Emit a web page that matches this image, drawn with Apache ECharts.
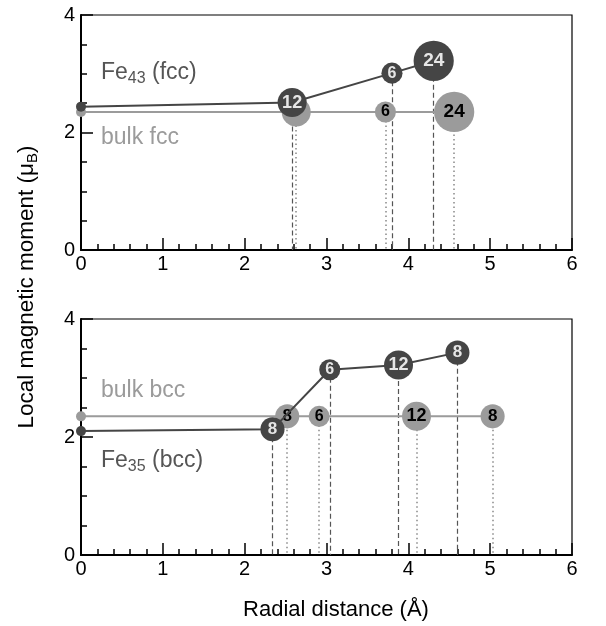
<!DOCTYPE html>
<html>
<head>
<meta charset="utf-8">
<script src="https://cdn.jsdelivr.net/npm/echarts@6/dist/echarts.min.js"></script>
<style>
  html, body { margin: 0; padding: 0; background: #fff; }
  #chart { width: 606px; height: 626px; }
</style>
</head>
<body>
<div id="chart"></div>
<script>
// top panel: Fe43 cluster vs bulk fcc
var fe43Center = 2.44;
var fe43R = [2.58, 3.80, 4.31];
var fe43M = [2.51, 3.01, 3.22];
var fe43N = [12, 6, 24];
var fccBulkM = 2.35;
var fccR = [2.63, 3.72, 4.56];
var fccN = [12, 6, 24];

// bottom panel: Fe35 cluster vs bulk bcc
var fe35Center = 2.10;
var fe35R = [2.34, 3.04, 3.88, 4.60];
var fe35M = [2.13, 3.14, 3.22, 3.43];
var fe35N = [8, 6, 12, 8];
var bccBulkM = 2.35;
var bccR = [2.52, 2.91, 4.10, 5.03];
var bccN = [8, 6, 12, 8];

var xTicks = [0, 1, 2, 3, 4, 5, 6];
var yTicks = [0, 2, 4];

var DARK = '#454545';
var GREY = '#9b9b9b';
var FONT = 'Liberation Sans, Arial, sans-serif';

function bubbleSize(n) {
    return 2 + 7.8 * Math.sqrt(n);
}

function makeX(idx) {
    return {
        type: 'value', gridIndex: idx, min: xTicks[0], max: xTicks[xTicks.length - 1], interval: 1,
        axisLine: { onZero: false, lineStyle: { color: '#000', width: 2 } },
        axisTick: { inside: true, length: 12, lineStyle: { color: '#000', width: 1.5 } },
        minorTick: { show: true, splitNumber: 5, length: 6, lineStyle: { color: '#000', width: 1.5 } },
        splitLine: { show: false },
        axisLabel: { color: '#000', fontSize: 20, fontFamily: FONT, margin: 4 }
    };
}

function makeY(idx) {
    return {
        type: 'value', gridIndex: idx, min: yTicks[0], max: yTicks[yTicks.length - 1], interval: 2,
        axisLine: { onZero: false, lineStyle: { color: '#000', width: 2 } },
        axisTick: { inside: true, length: 12, lineStyle: { color: '#000', width: 1.5 } },
        minorTick: { show: true, splitNumber: 4, length: 6, lineStyle: { color: '#000', width: 1.5 } },
        splitLine: { show: false },
        axisLabel: { color: '#000', fontSize: 20, fontFamily: FONT, margin: 6 }
    };
}

// connecting line + origin dot + drop lines
function lineSeries(idx, center, R, M, color, dropType, z) {
    var pts = [[0, center]].concat(R.map(function (r, i) { return [r, M[i]]; }));
    return {
        type: 'line', xAxisIndex: idx, yAxisIndex: idx, z: z,
        data: pts,
        symbol: 'circle',
        symbolSize: function (v, p) { return p.dataIndex === 0 ? 10 : 0; },
        itemStyle: { color: color },
        lineStyle: { color: color, width: 2 },
        animation: false,
        markLine: {
            silent: true, symbol: 'none', z: 1,
            label: { show: false },
            lineStyle: dropType === 'dashed'
                ? { color: '#555', width: 1.2, type: [5, 3] }
                : { color: '#888', width: 1.5, type: [1.5, 3] },
            data: R.map(function (r, i) { return [{ coord: [r, M[i]] }, { coord: [r, 0] }]; })
        }
    };
}

// bubbles; "cover" = points of the series drawn above, a label hidden under one is dropped
function bubbleSeries(idx, R, M, N, color, textColor, z, coverR, coverM) {
    return {
        type: 'scatter', xAxisIndex: idx, yAxisIndex: idx, z: z,
        data: R.map(function (r, i) {
            var hidden = (coverR || []).some(function (cr, j) {
                return Math.abs(cr - r) < 0.1 && Math.abs(coverM[j] - M[i]) < 0.3;
            });
            return {
                value: [r, M[i], N[i]],
                label: { show: !hidden, fontSize: Math.round(13 + 1.3 * Math.sqrt(N[i])) }
            };
        }),
        symbolSize: function (v) { return bubbleSize(v[2]); },
        itemStyle: { color: color, opacity: 1 },
        label: {
            show: true, position: 'inside', formatter: function (p) { return p.value[2]; },
            color: textColor, fontWeight: 'bold', fontFamily: FONT
        },
        emphasis: { disabled: true },
        animation: false
    };
}

function flat(arr, v) { return arr.map(function () { return v; }); }

var chart = echarts.init(document.getElementById('chart'));

var richSub = function (size, subSize, color, drop) {
    return {
        a: { fontSize: size, fill: color, fontFamily: FONT, verticalAlign: 'top', lineHeight: size + 3 },
        s: { fontSize: subSize, fill: color, fontFamily: FONT, verticalAlign: 'bottom', lineHeight: subSize + 1, padding: [drop, 0, 0, 0] }
    };
};

var option = {
    backgroundColor: '#fff',
    animation: false,
    grid: [
        { left: 81, right: 34, top: 15, height: 235, show: true, borderColor: '#000', borderWidth: 1.2 },
        { left: 81, right: 34, top: 319, height: 236, show: true, borderColor: '#000', borderWidth: 1.2 }
    ],
    xAxis: [makeX(0), makeX(1)],
    yAxis: [makeY(0), makeY(1)],
    series: [
        lineSeries(0, fccBulkM, fccR, flat(fccR, fccBulkM), GREY, 'dotted', 2),
        bubbleSeries(0, fccR, flat(fccR, fccBulkM), fccN, GREY, '#000', 3, fe43R, fe43M),
        lineSeries(0, fe43Center, fe43R, fe43M, DARK, 'dashed', 4),
        bubbleSeries(0, fe43R, fe43M, fe43N, DARK, '#e6e6e6', 5),

        lineSeries(1, bccBulkM, bccR, flat(bccR, bccBulkM), GREY, 'dotted', 2),
        bubbleSeries(1, bccR, flat(bccR, bccBulkM), bccN, GREY, '#000', 3, fe35R, fe35M),
        lineSeries(1, fe35Center, fe35R, fe35M, DARK, 'dashed', 4),
        bubbleSeries(1, fe35R, fe35M, fe35N, DARK, '#e6e6e6', 5)
    ],
    graphic: [
        {
            type: 'text', left: 101, top: 56, z: 10,
            style: { text: '{a|Fe}{s|43}{a| (fcc)}', fontFamily: FONT, rich: richSub(23, 16, '#555', 15) }
        },
        {
            type: 'text', left: 101, top: 126, z: 10,
            style: { text: 'bulk fcc', fontSize: 23, fill: GREY, fontFamily: FONT }
        },
        {
            type: 'text', left: 101, top: 379, z: 10,
            style: { text: 'bulk bcc', fontSize: 23, fill: GREY, fontFamily: FONT }
        },
        {
            type: 'text', left: 101, top: 444, z: 10,
            style: { text: '{a|Fe}{s|35}{a| (bcc)}', fontFamily: FONT, rich: richSub(23, 16, '#555', 15) }
        },
        {
            type: 'text', x: 28, y: 287, rotation: Math.PI / 2, z: 10,
            style: {
                text: '{a|Local magnetic moment (μ}{s|B}{a|)}', fontFamily: FONT,
                align: 'center', verticalAlign: 'middle',
                rich: richSub(22.5, 15, '#000', 14)
            }
        },
        {
            type: 'text', x: 336, y: 610, z: 10,
            style: {
                text: 'Radial distance (Å)', fontSize: 22, fill: '#000', fontFamily: FONT,
                align: 'center', verticalAlign: 'middle'
            }
        }
    ]
};

chart.setOption(option);
</script>
</body>
</html>
